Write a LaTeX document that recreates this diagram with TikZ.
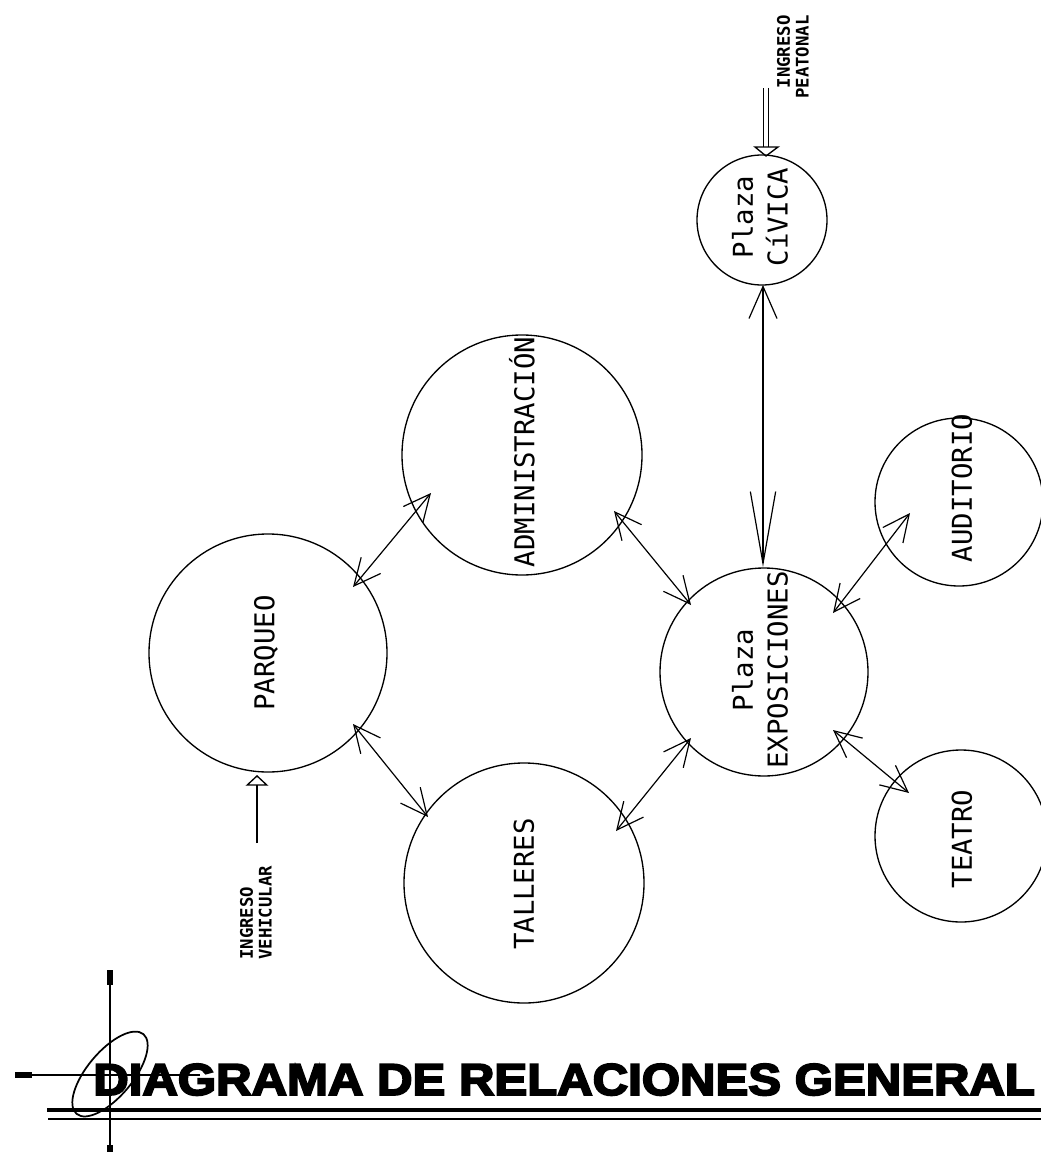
\documentclass[tikz,border=0pt]{standalone}
\usepackage{fontspec}
\usepackage{graphicx}
\usetikzlibrary{arrows.meta,calc}
\newfontfamily\zonefont{DejaVu Sans Mono}
\newfontfamily\titlefont[BoldFeatures={FakeBold=4}]{Liberation Sans}
\begin{document}
\begin{tikzpicture}[x=0.75pt,y=-0.75pt,
  zone/.style={draw, circle, line width=1pt, inner sep=0pt},
  lbl/.style={font=\zonefont\fontsize{20.5}{26}\selectfont, rotate=90, inner sep=0pt, align=center},
  small/.style={font=\zonefont\bfseries\fontsize{13}{14}\selectfont, rotate=90, inner sep=0pt},
  bi/.style={line width=0.9pt, {Straight Barb[length=20pt,width=19pt]}-{Straight Barb[length=20pt,width=19pt]}},
  vbi/.style={line width=0.9pt, {Straight Barb[length=24pt,width=21pt]}-{Straight Barb[length=54pt,width=19pt]}},
]
\useasboundingbox (0,0) rectangle (1041,1152);

% zones
\node[zone, minimum size=178.5pt] (P) at (268,653) {};
\node[zone, minimum size=180pt] (A) at (522,455) {};
\node[zone, minimum size=180pt] (T) at (524,883) {};
\node[zone, minimum size=156pt] (E) at (764,672) {};
\node[zone, minimum size=97.5pt] (C) at (762,220) {};
\node[zone, minimum size=126pt] (Au) at (959,502) {};
\node[zone, minimum size=129pt] (Te) at (961,836) {};

% labels
\node[lbl] (Pt) at (266,653) {PARQUEO};
\node[lbl] (At) at (522,452) {ADMINISTRACIÓN};
\node[lbl] (Tt) at (524,884) {TALLERES};
\node[lbl] (Et) at (760,670) {Plaza\\EXPOSICIONES};
\node[lbl] (Ct) at (760,217) {Plaza\\CíVICA};
\node[lbl] (Aut) at (962,488) {AUDITORIO};
\node[lbl] (Tet) at (962,839) {TEATRO};

% relations
\draw[bi] ($(P)+(85,-66)$) -- ($(A)+(-91,38)$);
\draw[bi] ($(A)+(92,56)$) -- ($(E)+(-73,-67)$);
\draw[bi] ($(P)+(85,71)$) -- ($(T)+(-96,-66)$);
\draw[bi] ($(T)+(92,-52)$) -- ($(E)+(-73,66)$);
\draw[bi] ($(E)+(69,-59)$) -- ($(Au)+(-49,11)$);
\draw[bi] ($(E)+(69,58)$) -- ($(Te)+(-52,-43)$);
\draw[vbi] ($(C)+(1,65)$) -- ($(E)+(-1,-105)$);

% vehicular entrance
\coordinate (vin) at (257,843);
\draw[line width=2.2pt, -{Triangle[open,length=8pt,width=17pt,line width=1pt]}] (vin) -- ($(P)+(-11,122)$);
\node[small, anchor=west, align=left] (vl) at (256,960) {INGRESO\\VEHICULAR};

% pedestrian entrance
\coordinate (pin) at (766,88);
\draw[line width=1pt, double distance=3pt] (pin) -- ($(C)+(4,-73)$);
\draw[line width=1pt] ($(C)+(-7,-73)$) -- ($(C)+(16,-73)$) -- ($(C)+(4,-64)$) -- cycle;
\node[small, anchor=east, align=right] (pl) at (793,15) {INGRESO\\PEATONAL};

% title mark
\draw[line width=1pt] (110,970) -- (110,1152);
\draw[line width=4.5pt] (110,970) -- (110,985);
\draw[line width=4.5pt] (110,1145) -- (110,1152);
\draw[line width=1pt] (15,1075) -- (200,1075);
\draw[line width=4pt] (15,1075) -- (32,1075);
\begin{scope}[shift={(110,1074)}, rotate=50]
\draw[line width=1.3pt] (0,0) ellipse [x radius=39pt, y radius=17pt];
\end{scope}

% title
\node[anchor=base west, inner sep=0pt] (title) at (93,1095)
  {\titlefont\bfseries\fontsize{33.5}{36}\selectfont\scalebox{1.1}[1]{DIAGRAMA DE RELACIONES GENERAL}};
\draw[line width=2.5pt] (47,1110) -- (1041,1110);
\draw[line width=1.2pt] (48,1119) -- (1041,1119);
\end{tikzpicture}
\end{document}
